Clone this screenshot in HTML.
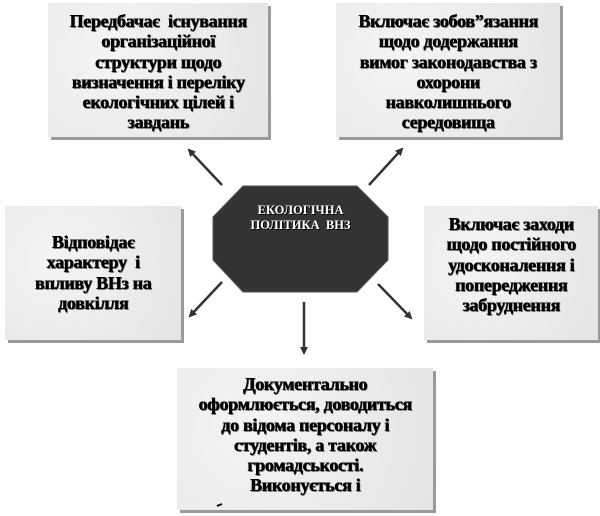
<!DOCTYPE html>
<html><head><meta charset="utf-8"><style>
body{margin:0;width:600px;height:516px;background:#fff;position:relative;overflow:hidden;font-family:"Liberation Serif","DejaVu Serif",serif;}
.b{position:absolute;background:#ececec;box-shadow:3px 3px 0 #9a9a9a;text-align:center;font-weight:bold;font-size:18px;line-height:20.3px;letter-spacing:-0.3px;color:#000;text-shadow:0.6px 0 0 #000,1px 1px 0 #777;box-sizing:border-box;padding-top:8px;white-space:nowrap;
background-image:radial-gradient(circle at 30% 40%,#f4f4f4 0,#e4e4e4 100%);}
svg{position:absolute;left:0;top:0;}
.c{position:absolute;left:213px;top:203px;width:175px;text-align:center;color:#fff;font-weight:bold;font-size:12.5px;line-height:15px;text-shadow:1px 1px 0 #000;}
</style></head><body>
<div class="b" style="left:48px;top:3px;width:220px;height:134px;">Передбачає &nbsp;існування<br>організаційної<br>структури щодо<br>визначення і переліку<br>екологічних цілей і<br>завдань</div>
<div class="b" style="left:336px;top:3px;width:224px;height:134px;">Включає зобов”язання<br>щодо додержання<br>вимог законодавства з<br>охорони<br>навколишнього<br>середовища</div>
<div class="b" style="left:5px;top:206px;width:176px;height:134px;padding-top:26px;">Відповідає<br>характеру &nbsp;і<br>впливу ВНз на<br>довкілля</div>
<div class="b" style="left:424px;top:206px;width:174px;height:134px;">Включає заходи<br>щодо постійного<br>удосконалення і<br>попередження<br>забруднення</div>
<div class="b" style="left:177px;top:368px;width:256px;height:142px;padding-top:6px;">Документально<br>оформлюється, доводиться<br>до відома персоналу і<br>студентів, а також<br>громадськості.<br>Виконується і</div>
<svg width="600" height="516">
<defs><marker id="a" markerWidth="8" markerHeight="8" refX="6" refY="4" orient="auto" markerUnits="userSpaceOnUse"><path d="M0,0 L8,4 L0,8 z" fill="#333"/></marker></defs>
<polygon points="243,186 357,186 388,217 388,260 357,292 243,292 213,260 213,217" fill="#333" stroke="#555"/>
<g stroke="#333" stroke-width="2.5" marker-end="url(#a)">
<line x1="222" y1="185" x2="189" y2="150"/>
<line x1="369" y1="185" x2="402" y2="149"/>
<line x1="222" y1="282" x2="190" y2="316"/>
<line x1="378" y1="284" x2="411" y2="318"/>
<line x1="304" y1="302" x2="304" y2="353"/>
</g>
<line x1="217" y1="506" x2="222" y2="504" stroke="#000" stroke-width="2"/>
</svg>
<div class="c">ЕКОЛОГІЧНА<br>ПОЛІТИКА &nbsp;ВНЗ</div>
</body></html>
